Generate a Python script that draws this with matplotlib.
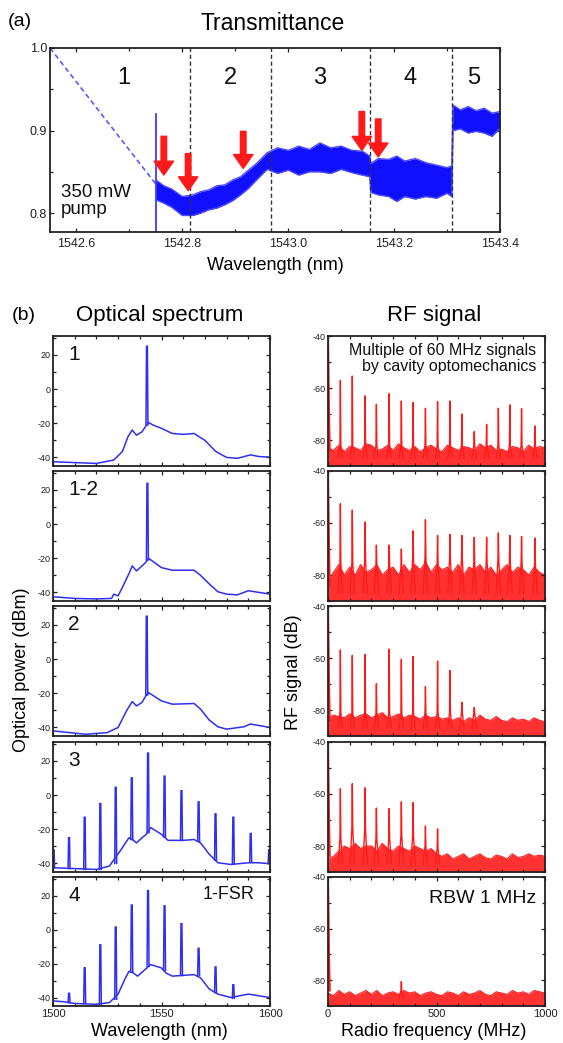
import numpy as np
import matplotlib
matplotlib.use("Agg")
import matplotlib.pyplot as plt
from matplotlib.ticker import MultipleLocator, FormatStrFormatter

plt.rcParams['font.family'] = ['Liberation Sans', 'DejaVu Sans']
plt.rcParams['axes.unicode_minus'] = False

W, H = 563, 1043
BLUE = '#2f2ff0'
RED = '#ff1a1a'

# ---------------- (a) transmittance ----------------
trans_wl = [1542.750, 1542.765, 1542.780, 1542.800, 1542.820, 1542.835, 1542.850,
            1542.865, 1542.880, 1542.895, 1542.910, 1542.925, 1542.940, 1542.960,
            1542.980, 1543.000, 1543.020, 1543.040, 1543.060, 1543.080, 1543.100,
            1543.120, 1543.140, 1543.154, 1543.156, 1543.170, 1543.190, 1543.205,
            1543.220, 1543.240, 1543.260, 1543.280, 1543.300, 1543.309, 1543.311,
            1543.325, 1543.340, 1543.355, 1543.370, 1543.385, 1543.400]
trans_hi = [0.840, 0.833, 0.829, 0.820, 0.822, 0.826, 0.828, 0.833, 0.834, 0.840,
            0.844, 0.852, 0.860, 0.873, 0.879, 0.876, 0.881, 0.877, 0.885, 0.879,
            0.881, 0.876, 0.875, 0.869, 0.860, 0.866, 0.865, 0.869, 0.863, 0.866,
            0.861, 0.858, 0.855, 0.857, 0.931, 0.925, 0.929, 0.924, 0.927, 0.921,
            0.923]
trans_lo = [0.816, 0.812, 0.807, 0.797, 0.797, 0.800, 0.804, 0.806, 0.810, 0.815,
            0.822, 0.830, 0.840, 0.853, 0.848, 0.852, 0.846, 0.850, 0.850, 0.848,
            0.853, 0.849, 0.846, 0.844, 0.825, 0.822, 0.820, 0.814, 0.820, 0.817,
            0.820, 0.818, 0.824, 0.820, 0.900, 0.902, 0.897, 0.899, 0.897, 0.893,
            0.903]
sweep_wl = [1542.55, 1542.75]
sweep_t = [1.0, 0.835]
region_edges = [1542.814, 1542.967, 1543.154, 1543.310]
region_names = ['1', '2', '3', '4', '5']
region_label_wl = [1542.689, 1542.890, 1543.059, 1543.231, 1543.350]
arrow_wl = [1542.765, 1542.811, 1542.915, 1543.139, 1543.170]
arrow_top = [0.893, 0.872, 0.899, 0.923, 0.914]
arrow_tip = [0.846, 0.827, 0.854, 0.876, 0.868]

# ---------------- (b) optical spectra ----------------
opt_names = ['1', '1-2', '2', '3', '4']

opt1_wl = [1500, 1510, 1520, 1528, 1532, 1534.5, 1536.5, 1538.5, 1541, 1542.6, 1544,
           1546, 1550, 1555, 1560, 1565, 1570, 1575, 1580, 1585, 1588, 1591, 1595, 1600]
opt1_db = [-42.5, -43, -43.5, -41.5, -36.5, -28, -24, -27, -25, -22, -19.5, -21, -23,
           -26, -26.5, -26, -30, -36.5, -40, -40.5, -39.5, -38.5, -39.5, -39.8]
opt1_pk_wl = [1543.3]
opt1_pk_db = [25]
opt1_pk_base = [-21]

opt2_wl = [1500, 1510, 1520, 1527, 1528, 1530, 1532, 1535, 1536.5, 1538.5, 1541, 1542.6,
           1544, 1550, 1555, 1565, 1568, 1572, 1576, 1580, 1585, 1590, 1595, 1600]
opt2_db = [-42.5, -43.5, -43.8, -43.5, -41, -42, -37, -29, -24.5, -27.4, -24.5, -22.6,
           -20, -25.5, -27, -27, -30, -35, -39.6, -41, -41.4, -39, -40, -41]
opt2_pk_wl = [1543.5]
opt2_pk_db = [23.8]
opt2_pk_base = [-21]

opt3_wl = [1500, 1515, 1525, 1530, 1534, 1536.5, 1538.5, 1541, 1542.8, 1544, 1550,
           1555, 1565, 1568, 1572, 1576, 1580, 1588, 1591, 1600]
opt3_db = [-42, -44, -43, -40, -30, -24.9, -27.4, -25.4, -21.5, -19.6, -24.5, -26.4,
           -26, -29.3, -35.7, -39.6, -41, -39.6, -38, -40]
opt3_pk_wl = [1543.2]
opt3_pk_db = [25]
opt3_pk_base = [-21]

opt4_wl = [1500, 1510, 1520, 1526, 1531, 1535, 1537, 1538.5, 1541, 1543, 1545, 1550,
           1553, 1560, 1565, 1568, 1572, 1576, 1582, 1590, 1595, 1600]
opt4_db = [-42.5, -43, -43.5, -41.5, -32.6, -25, -26.4, -28, -25, -23, -19, -23,
           -26.5, -26.5, -26, -28, -34.6, -39.6, -40.6, -39.6, -39.6, -40.2]
opt4_pk_wl = [1500.3, 1507.4, 1514.6, 1521.8, 1528.9, 1536.3, 1543.8, 1551.4,
              1559.2, 1567.1, 1574.9, 1583.1, 1591.1, 1599.6]
opt4_pk_db = [-32, -25, -13, -5, 4.5, 10, 24.5, 11, 2.5, -4, -11, -13, -22.5, -32]
opt4_pk_base = [-42.5, -43, -43.5, -43.5, -40, -26, -22, -24.5, -26.5, -27, -38,
                -40.5, -39, -40]

opt5_wl = [1500, 1505, 1510, 1520, 1526, 1530, 1533, 1535, 1537, 1539, 1542, 1545,
           1550, 1552, 1555, 1565, 1568, 1572, 1576, 1582, 1590, 1595, 1600]
opt5_db = [-42, -42.5, -43.5, -44, -43, -38, -29.5, -24.6, -25.5, -27.4, -24, -20.6,
           -22.6, -25.5, -27.4, -26.5, -28.4, -35, -38, -40, -38, -39, -40]
opt5_pk_wl = [1507.4, 1514.6, 1521.8, 1528.9, 1536.3, 1543.8, 1551.4, 1559.2,
              1567.1, 1574.9, 1583.1]
opt5_pk_db = [-37.5, -22.5, -9, 1.5, 14.5, 23, 14, 3.5, -11, -22, -32.5]
opt5_pk_base = [-43, -43.5, -44, -41, -25, -21.5, -24, -27, -27, -37, -40.5]

# ---------------- (b) RF spectra ----------------
rf_grid = [0, 25, 50, 75, 100, 125, 150, 175, 200, 225, 250, 275, 300, 325, 350,
           375, 400, 425, 450, 475, 500, 525, 550, 575, 600, 625, 650, 675, 700,
           725, 750, 775, 800, 825, 850, 875, 900, 925, 950, 975, 1000]
rf_pk_mhz = [57, 112, 171, 223, 282, 338, 392, 449, 505, 562, 617, 674, 731, 785,
             838, 892, 954]
dc_mhz = [0, 2, 5, 8]
dc_db = [-40, -52, -72, -84]

rf1_pk = [-57, -55.4, -63, -66.3, -62.2, -65, -65.6, -67.8, -65.3, -65, -70, -76.8,
          -74, -67.8, -66.5, -68, -74.6]
rf1_noise = [-83, -84, -82, -84.5, -82.5, -83, -84, -81.5, -82, -84, -83.5, -82,
             -84, -81.5, -83, -84, -82.5, -84.5, -83, -82, -83.5, -84.5, -82, -83,
             -84, -82.5, -83, -84, -81.5, -83, -82, -84, -83.5, -84.5, -82.5, -83,
             -84.5, -82, -83.5, -82.5, -83]
rf1_shoulder = [-82] * 17

rf2_pk = [-52.6, -55, -59.6, -68.5, -68.5, -70, -63, -58.7, -64.8, -64.4, -64.8,
          -65.5, -65.5, -63.8, -64.8, -65.2, -65.8]
rf2_noise = [-82, -79, -76, -80, -77, -80, -76, -79, -78, -76, -80, -78, -77, -80,
             -76, -79, -76, -78, -75, -79, -76, -78, -77, -79, -76, -80, -77, -78,
             -76, -79, -77, -80, -78, -76, -79, -77, -78, -80, -77, -79, -80]
rf2_shoulder = [-75, -75, -74, -76, -76, -77, -74, -73, -75, -74, -74, -75, -75,
                -74, -75, -75, -76]

rf3_pk = [-56.9, -59, -58.6, -69.9, -56.6, -60.5, -59.4, -71, -61.2, -64.8, -77, -79]
rf3_noise = [-83, -82, -82.5, -83, -81.5, -83, -82, -81.5, -83, -82, -81, -83,
             -82.5, -81.5, -83, -82, -82.5, -83.5, -82, -83, -82.5, -83.5, -83, -84,
             -83, -84.5, -83, -84, -82, -83.5, -84, -82.5, -84, -84.5, -83, -84,
             -83.5, -84.5, -83, -84, -84.5]
rf3_shoulder = [-81] * 12

rf4_pk = [-58, -56, -57.6, -65.4, -65.6, -63, -63.3, -72.3, -73.4]
rf4_noise = [-85, -84, -82, -80, -81, -79, -81, -80, -80, -82, -79, -81, -82, -80,
             -81, -82, -80, -81, -82, -81, -83, -84, -83, -85, -84, -83, -85, -84,
             -83, -84.5, -85, -83.5, -84, -85, -83, -84.5, -84, -83, -84, -83.5, -84]
rf4_shoulder = [-77, -73, -74, -77, -77, -76, -76, -80, -81]

rf5_pk = [-80.5]
rf5_pk_mhz = [338]
rf5_noise = [-85, -86, -84, -85.5, -84.5, -86, -85, -84, -85.5, -84, -86, -85,
             -84.5, -85.5, -84, -85, -84.5, -86, -85, -84.5, -85.5, -86, -84.5, -85,
             -86, -84.5, -85.5, -85, -84, -85.5, -86, -84.5, -85, -85.5, -84, -85,
             -84.5, -85.5, -84, -84.5, -85]
rf5_shoulder = [-84]


def px_axes(fig, x0, y0, x1, y1):
    return fig.add_axes([x0 / W, 1 - y1 / H, (x1 - x0) / W, (y1 - y0) / H])


def style_axes(ax, size):
    for s in ax.spines.values():
        s.set_linewidth(1.3)
        s.set_color('#222222')
    ax.tick_params(which='both', direction='in', top=True, right=True,
                   labelsize=size, width=0.9, colors='#222222', pad=2)
    ax.tick_params(which='major', length=3)
    ax.tick_params(which='minor', length=2)


def fig_text(fig, x, y, s, **kw):
    fig.text(x / W, 1 - y / H, s, **kw)


fig = plt.figure(figsize=(W / 100, H / 100), dpi=100)

# ---- panel (a) ----
ax = px_axes(fig, 50, 48, 500, 232)
ax.plot(sweep_wl, sweep_t, color='#5a5aff', lw=1.2, ls=(0, (3, 2)))
ax.plot([trans_wl[0], trans_wl[0]], [0.775, 0.92], color=BLUE, lw=1.2)
ax.fill_between(trans_wl, trans_lo, trans_hi, color='#1010ff', lw=0)
ax.plot(trans_wl, trans_hi, color='#4a4aff', lw=1.0)
ax.plot(trans_wl, trans_lo, color='#4a4aff', lw=1.0)
for e in region_edges:
    ax.axvline(e, color='#333333', lw=1.0, ls=(0, (3, 2)))
for name, xw in zip(region_names, region_label_wl):
    ax.text(xw, 0.964, name, fontsize=17, ha='center', va='center', color='#111111')
for xw, y0, y1 in zip(arrow_wl, arrow_top, arrow_tip):
    ax.annotate('', xy=(xw, y1), xytext=(xw, y0),
                arrowprops=dict(facecolor=RED, edgecolor=RED, width=4,
                                headwidth=14, headlength=10))
ax.text(0.025, 0.17, '350 mW\npump', transform=ax.transAxes, fontsize=13.5,
        ha='left', va='center', linespacing=1.0, color='#111111')
ax.set_xlim(1542.55, 1543.4)
ax.set_ylim(0.777, 1.0)
ax.xaxis.set_major_locator(MultipleLocator(0.2))
ax.xaxis.set_minor_locator(MultipleLocator(0.1))
ax.yaxis.set_major_locator(MultipleLocator(0.1))
ax.yaxis.set_minor_locator(MultipleLocator(0.05))
ax.xaxis.set_major_formatter(FormatStrFormatter('%.1f'))
ax.yaxis.set_major_formatter(FormatStrFormatter('%.1f'))
style_axes(ax, 9)
ax.tick_params(axis='x', pad=4)

fig_text(fig, 8, 22, '(a)', fontsize=14, va='center', ha='left')
fig_text(fig, 273, 23, 'Transmittance', fontsize=16.5, va='center', ha='center')
fig_text(fig, 275, 265, 'Wavelength (nm)', fontsize=13, va='center', ha='center')

# ---- panel (b) ----
rows = [(336, 466), (471, 601), (606, 736), (742, 872), (877, 1006)]
opt_data = [
    (opt1_wl, opt1_db, opt1_pk_wl, opt1_pk_db, opt1_pk_base),
    (opt2_wl, opt2_db, opt2_pk_wl, opt2_pk_db, opt2_pk_base),
    (opt3_wl, opt3_db, opt3_pk_wl, opt3_pk_db, opt3_pk_base),
    (opt4_wl, opt4_db, opt4_pk_wl, opt4_pk_db, opt4_pk_base),
    (opt5_wl, opt5_db, opt5_pk_wl, opt5_pk_db, opt5_pk_base),
]
rf_data = [
    (rf_pk_mhz, rf1_pk, rf1_noise, rf1_shoulder),
    (rf_pk_mhz, rf2_pk, rf2_noise, rf2_shoulder),
    (rf_pk_mhz[:len(rf3_pk)], rf3_pk, rf3_noise, rf3_shoulder),
    (rf_pk_mhz[:len(rf4_pk)], rf4_pk, rf4_noise, rf4_shoulder),
    (rf5_pk_mhz, rf5_pk, rf5_noise, rf5_shoulder),
]

for i, (y0, y1) in enumerate(rows):
    # optical spectrum
    ax = px_axes(fig, 53, y0, 270, y1)
    wl, db, pw, pd, pb = opt_data[i]
    ax.plot(wl, db, color=BLUE, lw=1.1)
    for w, p, b in zip(pw, pd, pb):
        ax.plot([w - 0.45, w - 0.2, w + 0.2, w + 0.45], [b, p, p, b],
                color=BLUE, lw=1.1, solid_joinstyle='miter')
    ax.set_xlim(1500, 1600)
    ax.set_ylim(-45, 31)
    ax.xaxis.set_major_locator(MultipleLocator(50))
    ax.xaxis.set_minor_locator(MultipleLocator(10))
    ax.yaxis.set_major_locator(MultipleLocator(20))
    ax.yaxis.set_minor_locator(MultipleLocator(10))
    style_axes(ax, 6.5)
    ax.tick_params(axis='x', labelsize=8)
    if i < 4:
        ax.tick_params(axis='x', labelbottom=False)
    ax.text(0.07, 0.93, opt_names[i], transform=ax.transAxes, fontsize=15,
            ha='left', va='top', color='#111111')
    if i == 4:
        ax.text(0.93, 0.93, '1-FSR', transform=ax.transAxes, fontsize=13,
                ha='right', va='top', color='#111111')

    # RF signal
    ax = px_axes(fig, 328, y0, 545, y1)
    pf, pk, noise, sh = rf_data[i]
    ax.fill_between(rf_grid, -90, noise, color=RED, alpha=0.9, lw=0)
    ax.plot(rf_grid, noise, color=RED, lw=0.8)
    ax.plot(dc_mhz, dc_db, color=RED, lw=1.5)
    for f, p, s in zip(pf, pk, sh):
        ax.plot([f - 10, f - 2, f, f + 2, f + 10], [-87, s, p, s, -87],
                color=RED, lw=1.0)
    ax.set_xlim(0, 1000)
    ax.set_ylim(-90, -40)
    ax.xaxis.set_major_locator(MultipleLocator(500))
    ax.xaxis.set_minor_locator(MultipleLocator(100))
    ax.yaxis.set_major_locator(MultipleLocator(20))
    ax.yaxis.set_minor_locator(MultipleLocator(10))
    style_axes(ax, 6.5)
    ax.tick_params(axis='x', labelsize=8)
    if i < 4:
        ax.tick_params(axis='x', labelbottom=False)
    if i == 0:
        ax.text(0.96, 0.95, 'Multiple of 60 MHz signals\nby cavity optomechanics',
                transform=ax.transAxes, fontsize=11.5, ha='right', va='top',
                linespacing=1.15, color='#111111')
    if i == 4:
        ax.text(0.96, 0.9, 'RBW 1 MHz', transform=ax.transAxes, fontsize=14,
                ha='right', va='top', color='#111111')

fig_text(fig, 12, 316, '(b)', fontsize=14, va='center', ha='left')
fig_text(fig, 160, 316, 'Optical spectrum', fontsize=16, va='center', ha='center')
fig_text(fig, 434, 316, 'RF signal', fontsize=16, va='center', ha='center')
fig_text(fig, 22, 670, 'Optical power (dBm)', fontsize=13, va='center',
         ha='center', rotation=90)
fig_text(fig, 293, 672, 'RF signal (dB)', fontsize=13, va='center',
         ha='center', rotation=90)
fig_text(fig, 159, 1032, 'Wavelength (nm)', fontsize=13, va='center', ha='center')
fig_text(fig, 434, 1032, 'Radio frequency (MHz)', fontsize=13, va='center',
         ha='center')

fig.savefig('out.png', dpi=100)
